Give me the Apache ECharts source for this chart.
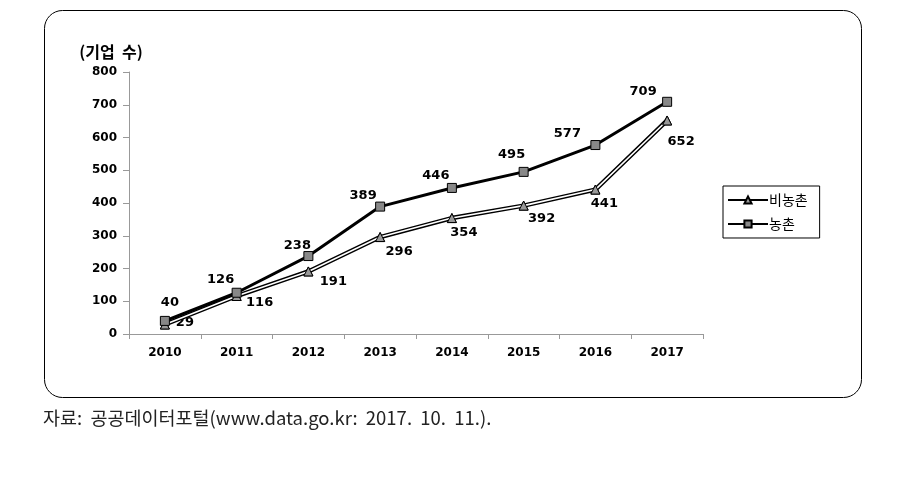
<!DOCTYPE html>
<html><head><meta charset="utf-8">
<script src="https://cdn.jsdelivr.net/npm/echarts@6/dist/echarts.min.js"></script>
<style>html,body{margin:0;padding:0;background:#fff}#c{width:908px;height:478px}</style>
</head><body><div id="c"></div>
<script>
var years = ['2010','2011','2012','2013','2014','2015','2016','2017'];
var nonRural = [29,116,191,296,354,392,441,652];
var rural = [40,126,238,389,446,495,577,709];
var yTicks = [0,100,200,300,400,500,600,700,800];

var ruralOffsets = [[5,-18],[-16,-13],[-11,-10],[-17,-11],[-16,-12],[-12,-17],[-28,-11],[-24,-10]];
var nonRuralOffsets = [[20,-2],[23,7],[25,10],[19,15],[12,15],[18,13],[9,14],[14,21]];

var numFont = '"DejaVu Sans", Verdana, sans-serif';
var krFont = '"Noto Sans CJK KR", sans-serif';

function labeled(vals, offs){
  return vals.map(function(v,i){return {value:v,label:{offset:offs[i]}};});
}

var chart = echarts.init(document.getElementById('c'));
chart.setOption({
  animation:false,
  grid:{left:129,top:72,width:574,height:262,containLabel:false},
  xAxis:{type:'category',data:years,boundaryGap:true,
    axisLine:{lineStyle:{color:'#999',width:1}},
    axisTick:{show:true,length:5,lineStyle:{color:'#999'}},
    axisLabel:{color:'#000',fontWeight:'bold',fontSize:12,fontFamily:numFont,margin:13}},
  yAxis:{type:'value',min:0,max:800,interval:100,
    name:'(기업  수)',nameLocation:'end',nameGap:12,
    nameTextStyle:{color:'#000',fontWeight:'bold',fontSize:16,fontFamily:krFont,align:'center',padding:[0,0,0,-36]},
    splitLine:{show:false},
    axisLine:{show:true,lineStyle:{color:'#999'}},
    axisTick:{show:true,length:6,lineStyle:{color:'#999'}},
    axisLabel:{color:'#000',fontWeight:'bold',fontSize:12,fontFamily:numFont,margin:12,
      formatter:function(v){return yTicks.indexOf(v)>=0?String(v):'';}}},
  legend:{orient:'vertical',left:723,top:186,itemWidth:40,itemHeight:9,itemGap:10,
    padding:[7,12,7,4],borderColor:'#000',borderWidth:1,
    data:['비농촌','농촌'],
    textStyle:{color:'#000',fontSize:14,fontFamily:krFont,padding:[0,0,0,-4]}},
  series:[
    {name:'비농촌',type:'line',data:labeled(nonRural,nonRuralOffsets),z:2,
      lineStyle:{color:'#000',width:4.5},itemStyle:{color:'#999',borderColor:'#000',borderWidth:1},
      symbol:'triangle',symbolSize:9,
      label:{show:true,position:'inside',color:'#000',fontWeight:'bold',fontSize:13,fontFamily:numFont}},
    {name:'비농촌_inner',type:'line',data:nonRural,z:3,silent:true,
      lineStyle:{color:'#fff',width:1.6},symbol:'triangle',symbolSize:9,
      itemStyle:{color:'#999',borderColor:'#000',borderWidth:1},label:{show:false}},
    {name:'농촌',type:'line',data:labeled(rural,ruralOffsets),z:4,
      lineStyle:{color:'#000',width:3},itemStyle:{color:'#888',borderColor:'#000',borderWidth:1},
      symbol:'rect',symbolSize:9,
      label:{show:true,position:'inside',color:'#000',fontWeight:'bold',fontSize:13,fontFamily:numFont}}
  ],
  graphic:[
    {type:'rect',shape:{x:44.5,y:10.5,width:817,height:387,r:18},style:{fill:'none',stroke:'#000',lineWidth:1},z:-1},
    {type:'text',left:43,top:409,style:{text:'자료:  공공데이터포털(www.data.go.kr:  2017.  10.  11.).',fill:'#222',fontSize:18.5,fontFamily:krFont}}
  ]
});
</script></body></html>
